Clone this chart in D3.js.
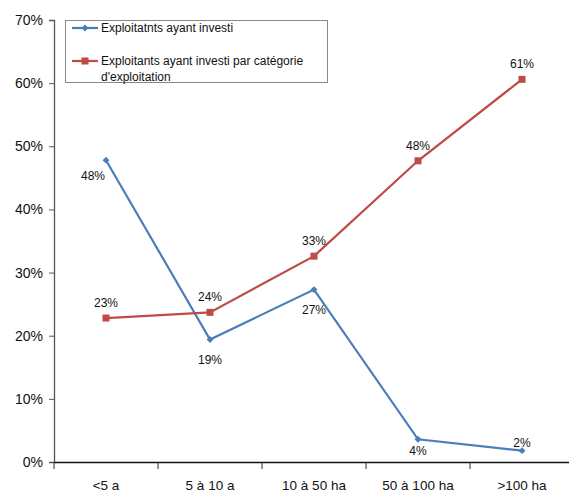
<!DOCTYPE html>
<html>
<head>
<meta charset="utf-8">
<script src="https://cdn.jsdelivr.net/npm/d3@7"></script>
<style>
	body { margin: 0; background: #fff; }
	svg { display: block; font-family: "Liberation Sans", Arial, sans-serif; }
</style>
</head>
<body>
<div class="c-svg"></div>
<script>
//DATA
//-------------------------------------------------------------------------
const categories = ["<5 a", "5 à 10 a", "10 à 50 ha", "50 à 100 ha", ">100 ha"];
const investi = [0.478, 0.194, 0.273, 0.036, 0.018];
const investiCategorie = [0.228, 0.237, 0.326, 0.477, 0.606];
const yTicks = [0, 0.1, 0.2, 0.3, 0.4, 0.5, 0.6, 0.7];
const legendLabels = [
	["Exploitatnts ayant investi"],
	["Exploitants ayant investi par catégorie", "d'exploitation"]
];

//label placement (blue series), red labels all sit above
const bluePlacement = ["left", "below", "below", "below", "above"];

//OPTS
//-------------------------------------------------------------------------
const opts = {
	width: 569,
	height: 493,
	left: 54,
	right: 574,
	top: 20,
	bottom: 462
};
const colors = { blue: "#4a7ebb", red: "#be4b48" };

const svg = d3.select(".c-svg")
	.append("svg")
	.attr("width", opts.width)
	.attr("height", opts.height);

//scales
const x = d3.scaleBand()
	.domain(categories)
	.range([opts.left, opts.right]);

const y = d3.scaleLinear()
	.domain([0, 0.7])
	.range([opts.bottom, opts.top]);

const cx = d => x(d) + x.bandwidth() / 2;

//AXES
//-------------------------------------------------------------------------
const yAxis = svg.append("g")
	.attr("transform", `translate(${opts.left},0)`)
	.call(d3.axisLeft(y)
		.tickValues(yTicks)
		.tickFormat(d3.format(".0%"))
		.tickSize(5)
		.tickPadding(6));
yAxis.select(".domain").attr("stroke", "#555").attr("stroke-width", 1.3);
yAxis.selectAll(".tick line").attr("stroke", "#555");
yAxis.selectAll("text")
	.attr("font-size", 14)
	.attr("fill", "#111")
	.attr("font-family", "Liberation Sans, Arial, sans-serif");

const xAxis = svg.append("g")
	.attr("transform", `translate(0,${opts.bottom})`)
	.call(d3.axisBottom(x).tickSize(0).tickPadding(18));
xAxis.select(".domain").attr("stroke", "#111").attr("stroke-width", 1.5);
xAxis.selectAll("text")
	.attr("font-size", 13.5)
	.attr("fill", "#111")
	.attr("font-family", "Liberation Sans, Arial, sans-serif");

//category separator ticks
xAxis.selectAll(".sep")
	.data(categories)
	.join("line")
	.attr("class", "sep")
	.attr("x1", d => x(d))
	.attr("x2", d => x(d))
	.attr("y1", 0)
	.attr("y2", 7)
	.attr("stroke", "#333");

//SERIES
//-------------------------------------------------------------------------
const line = d3.line()
	.x((d, i) => cx(categories[i]))
	.y(d => y(d));

svg.append("path")
	.datum(investi)
	.attr("d", line)
	.attr("fill", "none")
	.attr("stroke", colors.blue)
	.attr("stroke-width", 2.2);

svg.append("path")
	.datum(investiCategorie)
	.attr("d", line)
	.attr("fill", "none")
	.attr("stroke", colors.red)
	.attr("stroke-width", 2.2);

//markers
svg.selectAll(".diamond")
	.data(investi)
	.join("path")
	.attr("class", "diamond")
	.attr("d", d3.symbol(d3.symbolDiamond2, 30))
	.attr("transform", (d, i) => `translate(${cx(categories[i])},${y(d)})`)
	.attr("fill", colors.blue);

svg.selectAll(".square")
	.data(investiCategorie)
	.join("rect")
	.attr("class", "square")
	.attr("x", (d, i) => cx(categories[i]) - 3.5)
	.attr("y", d => y(d) - 3.5)
	.attr("width", 7)
	.attr("height", 7)
	.attr("fill", colors.red);

//LABELS
//-------------------------------------------------------------------------
const pct = d => Math.round(d * 100) + "%";

svg.selectAll(".lab-blue")
	.data(investi)
	.join("text")
	.attr("class", "lab-blue")
	.attr("x", (d, i) => cx(categories[i]) + (bluePlacement[i] === "left" ? -13 : 0))
	.attr("y", (d, i) => {
		const p = bluePlacement[i];
		if (p === "above") return y(d) - 4;
		if (p === "left") return y(d) + 20;
		if (i === 3) return y(d) + 16;
		return y(d) + 24;
	})
	.attr("text-anchor", "middle")
	.attr("font-size", 12)
	.attr("fill", "#111")
	.text(pct);

svg.selectAll(".lab-red")
	.data(investiCategorie)
	.join("text")
	.attr("class", "lab-red")
	.attr("x", (d, i) => cx(categories[i]))
	.attr("y", d => y(d) - 11)
	.attr("text-anchor", "middle")
	.attr("font-size", 12)
	.attr("fill", "#111")
	.text(pct);

//LEGEND
//-------------------------------------------------------------------------
const legend = svg.append("g");

legend.append("rect")
	.attr("x", 65.5)
	.attr("y", 20.5)
	.attr("width", 262)
	.attr("height", 62)
	.attr("fill", "#fff")
	.attr("stroke", "#888");

const legendItems = [
	{ color: colors.blue, marker: "diamond", lines: legendLabels[0], y: 28 },
	{ color: colors.red, marker: "square", lines: legendLabels[1], y: 61 }
];

legendItems.forEach(item => {
	legend.append("line")
		.attr("x1", 72).attr("x2", 98)
		.attr("y1", item.y).attr("y2", item.y)
		.attr("stroke", item.color)
		.attr("stroke-width", 2.2);
	if (item.marker === "diamond") {
		legend.append("path")
			.attr("d", d3.symbol(d3.symbolDiamond2, 30))
			.attr("transform", `translate(85,${item.y})`)
			.attr("fill", item.color);
	} else {
		legend.append("rect")
			.attr("x", 81.5).attr("y", item.y - 3.5)
			.attr("width", 7).attr("height", 7)
			.attr("fill", item.color);
	}
	item.lines.forEach((t, j) => {
		legend.append("text")
			.attr("x", 101)
			.attr("y", item.y + 4 + j * 16)
			.attr("font-size", 12)
			.attr("fill", "#111")
			.text(t);
	});
});
</script>
</body>
</html>
